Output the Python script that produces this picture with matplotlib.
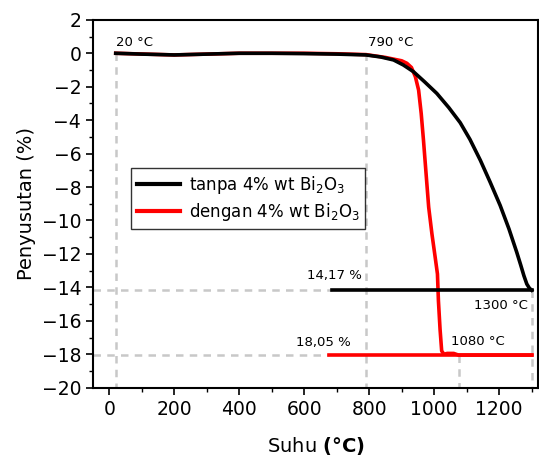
import matplotlib
matplotlib.use("Agg")
import matplotlib.pyplot as plt
from matplotlib.ticker import MultipleLocator

# temperature (°C) vs shrinkage (%)
black_T = [20, 100, 200, 300, 400, 500, 600, 700, 790, 835, 875, 905, 936,
           970, 1008, 1045, 1080, 1110, 1142, 1172, 1203, 1230, 1254, 1266,
           1276, 1285, 1293, 1300]
black_P = [0, -0.05, -0.1, -0.05, 0, 0, -0.02, -0.05, -0.1, -0.22, -0.4,
           -0.7, -1.1, -1.7, -2.4, -3.25, -4.15, -5.15, -6.4, -7.7, -9.1,
           -10.5, -11.9, -12.65, -13.3, -13.8, -14.05, -14.17]
black_cool_T = [1300, 685]
black_cool_P = [-14.17, -14.17]

red_T = [20, 200, 400, 600, 700, 790, 850, 900, 916, 930, 942, 952, 960, 967,
         975, 983, 993, 1003, 1010, 1013, 1018, 1023, 1030, 1040, 1060, 1075,
         1100, 1300]
red_P = [0, -0.1, 0, 0, -0.03, -0.08, -0.25, -0.45, -0.6, -0.85, -1.4, -2.2,
         -3.6, -5.2, -7.2, -9.2, -10.8, -12.2, -13.2, -14.8, -16.5, -17.8,
         -18.0, -17.95, -17.95, -18.05, -18.05, -18.05]
red_cool_T = [1300, 675]
red_cool_P = [-18.05, -18.05]

labels = ["tanpa 4% wt Bi$_2$O$_3$", "dengan 4% wt Bi$_2$O$_3$"]

fig = plt.figure(figsize=(5.39, 4.61), dpi=100)
ax = fig.add_axes([0.1725, 0.159, 0.826, 0.798])

grey = "#c8c8c8"
dash = dict(color=grey, lw=1.8, ls=(0, (3, 2.5)), zorder=1)
ax.plot([20, 20], [0, -20], **dash)
ax.plot([790, 790], [0, -20], **dash)
ax.plot([1075, 1075], [-18.05, -20], **dash)
ax.plot([1300, 1300], [-14.17, -20], **dash)
ax.plot([-50, 685], [-14.17, -14.17], **dash)
ax.plot([-50, 675], [-18.05, -18.05], **dash)

r1, = ax.plot(red_T, red_P, color="#ff0000", lw=2.6, zorder=2)
ax.plot(red_cool_T, red_cool_P, color="#ff0000", lw=2.6, zorder=2)
b1, = ax.plot(black_T, black_P, color="black", lw=2.6, zorder=3)
ax.plot(black_cool_T, black_cool_P, color="black", lw=2.6, zorder=3)

fs = 9.5
ax.text(20, 0.45, "20 °C", fontsize=fs)
ax.text(795, 0.45, "790 °C", fontsize=fs)
ax.text(777, -13.3, "14,17 %", fontsize=fs, ha="right", va="center")
ax.text(1123, -15.1, "1300 °C", fontsize=fs, va="center")
ax.text(575, -17.3, "18,05 %", fontsize=fs, va="center")
ax.text(1052, -17.25, "1080 °C", fontsize=fs, va="center")

leg = ax.legend([b1, r1], labels, loc="upper left", bbox_to_anchor=(0.067, 0.62),
                fontsize=12, frameon=True, fancybox=False, handlelength=2.6,
                borderpad=0.35, labelspacing=0.3, handletextpad=0.5)
leg.get_frame().set_edgecolor("black")
leg.get_frame().set_linewidth(1.0)
for h in leg.get_lines():
    h.set_linewidth(3)

ax.set_xlim(-50, 1320)
ax.set_ylim(-20, 2)
ax.xaxis.set_major_locator(MultipleLocator(200))
ax.xaxis.set_minor_locator(MultipleLocator(100))
ax.yaxis.set_major_locator(MultipleLocator(2))
ax.yaxis.set_minor_locator(MultipleLocator(1))
ax.tick_params(which="major", direction="out", length=5, width=1.2, labelsize=13.5)
ax.tick_params(which="minor", direction="out", length=3, width=1.0)
for s in ax.spines.values():
    s.set_linewidth(1.5)

ax.set_xlabel(r"Suhu $\mathbf{(°C)}$", fontsize=14, labelpad=12)
ax.set_ylabel("Penyusutan (%)", fontsize=14, labelpad=4)

fig.savefig("out.png", dpi=100)
